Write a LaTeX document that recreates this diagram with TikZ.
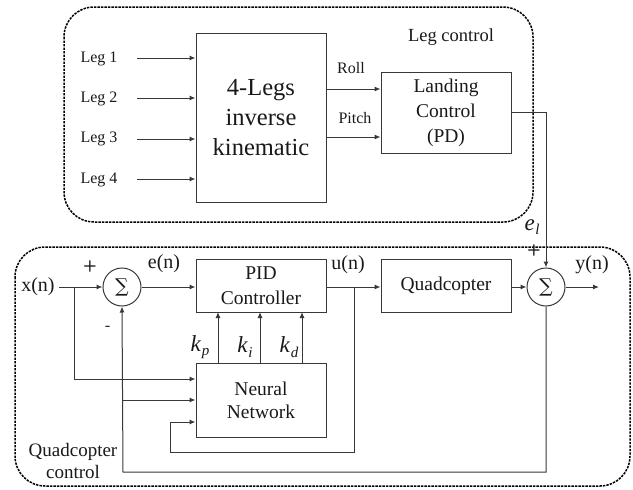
\documentclass[tikz,border=0pt]{standalone}
\usepackage{fontspec}
\setmainfont{Liberation Serif}
\newfontfamily\symfont{DejaVu Serif}
\usetikzlibrary{arrows.meta}
% italic symbol with a lowered italic index
\newcommand{\symsub}[2]{\textit{#1}\kern0.5pt\raisebox{-4.5pt}{\fontsize{15}{17}\selectfont\textit{#2}}}
\begin{document}
\begin{tikzpicture}[x=1pt,y=-1pt,
  line/.style={draw=black!78, line width=1pt},
  arr/.style={line, -{Latex[length=6pt,width=5pt]}},
  blk/.style={draw=black!78, line width=1pt, rectangle, inner sep=0pt, align=center, text=black!90},
  sumnode/.style={draw=black!78, line width=1pt, circle, minimum size=38pt, inner sep=0pt, text=black!90},
  group/.style={draw=black, line width=1.5pt, dash pattern=on 2.4pt off 1.1pt, rounded corners=30pt},
  lbl/.style={text=black!90, inner sep=0pt, align=center},
  fsmall/.style={font=\fontsize{16}{19}\selectfont},
  fmid/.style={font=\fontsize{19.5}{25}\selectfont},
  fbig/.style={font=\fontsize{24.5}{30}\selectfont},
  fsig/.style={font=\symfont\fontsize{19}{21}\selectfont},
  fsign/.style={font=\fontsize{16}{18}\selectfont\sffamily\bfseries},
  fsym/.style={font=\fontsize{23}{26}\selectfont}
]
\useasboundingbox (0,0) rectangle (633,490);

% group frames
\draw[group] (64,7) rectangle (533,222);
\draw[group] (15,247) rectangle (630,486);
\node[lbl, font=\fontsize{18.5}{22}\selectfont] (legctl) at (451,37) {Leg control};
\node[lbl, font=\fontsize{19}{22}\selectfont] (quadctl) at (73,461) {Quadcopter\\[0pt]control};

% leg control blocks
\node[blk, fbig, minimum width=130pt, minimum height=169pt] (ik) at (261,117.5) {4-Legs\\inverse\\kinematic};
\node[blk, fmid, minimum width=130pt, minimum height=81pt] (land) at (446,112.5) {Landing\\Control\\(PD)};

\node[lbl, fsmall] (leg1) at (99,59) {Leg 1};
\node[lbl, fsmall] (leg2) at (99,99) {Leg 2};
\node[lbl, fsmall] (leg3) at (99,139) {Leg 3};
\node[lbl, fsmall] (leg4) at (99,180) {Leg 4};
\foreach \l/\yy in {leg1/58,leg2/98,leg3/139,leg4/179}{
  \coordinate (\l s) at (137,\yy);
  \draw[arr] (\l s) -- (\l s -| ik.west);
}

\coordinate (rolls) at (326,89);
\coordinate (pitchs) at (326,137);
\draw[arr] (rolls) -- (rolls -| land.west);
\draw[arr] (pitchs) -- (pitchs -| land.west);
\node[lbl, fsmall] (roll) at (351,68) {Roll};
\node[lbl, fsmall] (pitch) at (355,118) {Pitch};

% quadcopter control blocks
\node[blk, fmid, minimum width=130pt, minimum height=53pt] (pid) at (261,286) {PID\\Controller};
\node[blk, fmid, minimum width=130pt, minimum height=53pt] (quad) at (446,286) {Quadcopter};
\node[blk, font=\fontsize{19.5}{23}\selectfont, minimum width=130pt, minimum height=74pt] (nn) at (261,400) {Neural\\Network};
\node[sumnode, fsig] (s1) at (122,287) {∑};
\node[sumnode, fsig] (s2) at (546,287) {∑};

% signal labels
\node[lbl, font=\fontsize{20}{24}\selectfont] (xn) at (38,287) {x(n)};
\node[lbl, font=\fontsize{20}{24}\selectfont] (en) at (164,264) {e(n)};
\node[lbl, font=\fontsize{20}{24}\selectfont] (un) at (348,265) {u(n)};
\node[lbl, font=\fontsize{20}{24}\selectfont] (yn) at (592,265) {y(n)};
\node[lbl, fsym] (el) at (532,227) {\symsub{e}{l}};
\node[lbl, fsign] (p1) at (90,266) {+};
\node[lbl, fsign] (m1) at (108,328) {-};
\node[lbl, fsign] (p2) at (534,250) {+};
\node[lbl, fsym] (kp) at (200,347) {\symsub{k}{p}};
\node[lbl, fsym] (ki) at (245,347) {\symsub{k}{i}};
\node[lbl, fsym] (kd) at (289,347) {\symsub{k}{d}};

% main path
\coordinate (xs) at (59,287);
\draw[arr] (xs) -- (s1.west);
\draw[arr] (s1.east) -- (s1.east -| pid.west);
\draw[arr] (pid.east |- s1) -- (quad.west |- s1);
\draw[arr] (quad.east |- s2) -- (s2.west);
\coordinate (yend) at (599,287);
\draw[arr] (s2.east) -- (yend);

% landing output into second sum
\coordinate (lo) at (546,112);
\draw[arr] (land.east |- lo) -- (lo) -- (s2.north);

% gains
\foreach \xx in {218,260,302}{
  \draw[arr] (\xx,363) -- (\xx,312);
}

% x(n) branch to network
\coordinate (xb) at (74,287);
\draw[arr] (xb) -- (74,379) -- (nn.west |- 0,379);

% output feedback
\coordinate (fb) at (546,472);
\draw[arr] (s2.south) -- (fb) -- (123,472) -- (s1.south);
\draw[arr] (123,400) -- (nn.west |- 0,400);

% control signal loop
\coordinate (ub) at (354,287);
\draw[arr] (ub) -- (354,452) -- (170,452) -- (170,422) -- (nn.west |- 0,422);
\end{tikzpicture}
\end{document}
